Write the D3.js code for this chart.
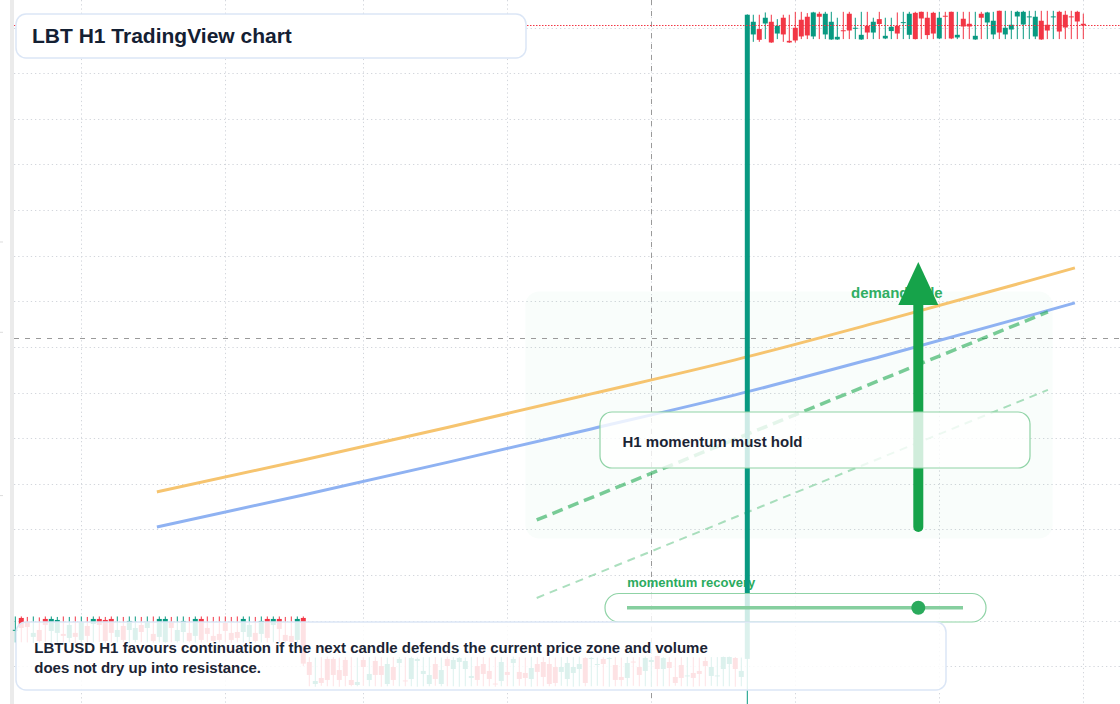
<!DOCTYPE html>
<html><head><meta charset="utf-8">
<script src="https://cdn.jsdelivr.net/npm/d3@7"></script>
<style>html,body{margin:0;padding:0;background:#fff;} svg{display:block;font-family:"Liberation Sans",Arial,sans-serif;}</style>
</head><body><svg id="c" width="1120" height="704"></svg>
<script>
// ---------------- DATA ----------------
// candle opens: 49 early candles, 73 after the drop, 57 after the jump
const openPrices = [
 103.97,105.29,104.85,103.21,103.97,105.18,103.86,103.65,103.54,103.10,
 103.65,102.88,104.41,104.63,105.18,105.07,105.18,103.21,104.41,103.97,
 102.88,104.52,104.19,103.54,103.21,102.66,104.85,102.77,103.75,103.65,
 103.32,105.18,104.19,103.32,103.54,104.74,103.65,103.75,103.75,103.21,
 103.65,103.54,105.18,104.52,105.18,103.43,103.32,102.88,105.29,
 100.46,98.05,98.71,100.79,100.79,99.58,100.68,98.49,97.94,100.68,
 98.49,100.57,100.02,98.05,99.91,100.35,98.44,98.60,100.57,99.15,
 98.05,100.24,98.05,100.79,99.69,100.46,99.69,98.71,100.02,100.24,
 99.48,98.10,98.38,99.37,100.35,99.37,99.26,98.60,100.24,100.46,
 100.24,99.91,99.37,98.60,99.26,99.69,100.90,100.79,100.13,100.79,
 100.79,100.13,98.82,98.71,100.51,99.91,99.48,100.46,101.12,99.69,
 100.46,98.82,100.13,98.88,99.26,99.48,100.57,98.93,98.88,99.69,
 100.24,100.90,98.82,
 100.80,169.25,169.84,170.45,170.64,169.35,171.08,168.55,169.98,170.86,
 171.19,169.03,171.52,169.25,168.70,168.70,169.71,171.52,169.87,168.70,
 170.20,169.46,170.93,168.81,169.62,170.20,170.53,169.21,171.62,171.73,
 171.08,171.62,168.81,171.30,171.73,168.92,170.97,170.42,168.70,171.52,
 170.56,169.25,171.84,169.25,169.79,171.22,170.34,171.14,169.03,170.75,
 170.31,171.14,171.73,171.41,171.23,171.73,170.42
];
const highPrices = [
 105.45,105.45,105.40,105.45,105.35,105.45,105.45,105.40,105.45,105.40,
 105.45,105.45,105.40,105.45,105.45,105.40,105.45,105.45,105.40,105.45,
 105.45,105.40,105.45,105.45,105.45,105.45,105.40,105.45,105.45,105.40,
 105.45,105.45,105.45,105.40,105.45,105.45,105.40,105.45,105.45,105.45,
 105.40,105.45,105.45,105.45,105.45,105.40,105.45,105.45,105.45,
 101.00,100.95,101.00,101.05,101.00,100.95,101.00,101.00,100.95,101.00,
 101.00,101.05,101.00,100.95,101.00,101.00,101.00,101.05,100.95,101.00,
 101.00,101.00,100.95,101.05,101.00,101.00,100.95,101.00,101.00,101.00,
 100.95,101.00,101.00,101.00,101.05,101.00,100.95,101.00,101.00,101.00,
 101.00,100.95,101.00,101.00,101.00,101.05,101.00,101.00,100.95,101.00,
 101.00,101.00,100.95,101.00,101.00,101.00,101.05,101.00,101.15,101.00,
 101.00,100.95,101.00,101.00,101.00,100.95,101.00,101.00,101.00,101.05,
 101.05,101.00,100.95,
 171.45,171.41,171.41,171.66,171.41,170.93,171.41,171.41,171.73,171.73,
 171.59,171.73,171.73,171.73,171.73,171.08,171.73,171.73,171.08,171.73,
 171.73,171.08,171.73,171.08,171.08,171.66,171.73,171.73,171.73,171.75,
 171.73,171.73,171.73,171.73,171.75,171.73,171.73,171.73,171.73,171.73,
 171.73,171.73,171.86,171.84,171.84,171.84,171.84,171.84,171.84,171.84,
 171.84,171.84,171.84,171.84,171.84,171.84,171.52
];
const lowPrices = [
 102.60,102.62,102.60,102.55,102.60,102.66,102.60,102.58,102.62,102.60,
 102.55,102.60,102.62,102.60,102.66,102.58,102.60,102.60,102.62,102.55,
 102.60,102.62,102.60,102.58,102.60,102.55,102.62,102.60,102.60,102.62,
 102.60,102.58,102.62,102.60,102.60,102.62,102.55,102.60,102.60,102.62,
 102.58,102.60,102.60,102.62,102.60,102.58,102.55,102.60,100.00,
 97.80,97.75,97.85,97.80,97.80,97.75,97.80,97.80,97.80,97.85,
 97.80,97.80,97.75,97.80,97.85,97.80,97.80,97.80,97.75,97.80,
 97.80,97.85,97.80,97.80,97.80,97.75,97.80,97.80,97.85,97.80,
 97.80,97.75,97.80,97.80,97.80,97.85,97.80,97.75,97.80,97.80,
 97.80,97.80,97.85,97.80,97.75,97.80,97.80,97.80,97.85,97.80,
 97.75,97.80,97.80,97.80,97.85,97.80,97.80,97.75,97.80,97.80,
 97.80,97.85,97.80,97.80,97.75,97.80,97.80,97.85,97.80,97.80,
 97.80,97.75,97.80,
 95.00,168.44,168.44,168.74,168.33,168.74,168.44,168.33,168.37,168.74,
 168.74,168.74,168.74,168.74,168.66,168.66,168.74,168.74,168.74,168.66,
 168.74,168.74,168.74,168.74,168.74,168.74,168.74,168.74,168.70,168.74,
 168.74,168.74,168.74,168.74,168.74,168.74,168.74,168.74,168.66,168.74,
 168.74,168.74,168.74,168.74,168.74,168.74,168.74,168.74,168.74,168.66,
 168.74,168.74,168.74,168.74,168.74,168.74,168.74
];
const closePrices = [
 103.99,104.19,104.30,103.65,102.77,104.52,105.18,105.07,103.32,104.52,
 103.21,104.85,103.32,105.18,104.52,102.77,103.65,103.97,102.88,104.96,
 104.19,103.75,104.85,102.77,105.18,105.18,104.19,103.97,104.96,102.77,
 105.18,102.88,103.54,102.77,102.88,103.86,102.88,103.10,105.18,104.52,
 102.77,104.96,103.10,105.18,104.08,102.77,102.66,105.18,100.28,
 99.04,98.38,98.16,98.49,99.04,98.49,98.93,97.94,98.27,99.91,
 99.15,99.04,99.04,100.24,98.49,100.79,98.33,100.90,100.79,99.48,
 99.04,98.60,99.58,100.02,100.68,100.90,100.57,98.93,98.49,99.15,
 98.60,98.00,100.46,99.04,100.79,98.60,98.71,99.80,99.37,98.82,
 98.05,98.16,99.91,100.35,99.91,100.24,98.16,100.90,100.24,100.24,
 100.90,98.49,98.49,100.35,100.40,99.04,100.90,100.68,99.69,100.90,
 99.80,98.16,98.71,98.99,98.71,99.15,100.02,99.91,98.99,101.01,
 101.01,99.69,99.48,
 171.41,170.64,168.66,171.08,168.37,170.20,169.25,168.37,168.59,169.03,
 169.14,171.66,171.19,171.52,170.64,168.99,169.60,169.68,169.98,169.21,
 169.46,170.64,170.39,169.10,170.09,169.35,170.60,171.52,168.74,171.00,
 169.18,169.35,171.08,171.22,168.81,169.21,170.12,170.12,169.10,171.08,
 171.66,170.75,169.46,169.98,170.31,171.73,171.73,171.23,171.19,168.70,
 169.68,171.23,169.57,170.01,171.14,170.67,170.23
];
// daily separators (candle index) and price grid
const dayTicks = [11, 35, 58, 82, 106, 130, 154, 178];
const priceGrid = [100,105,110,115,120,125,130,135,140,145,150,155,160,165,170];
const edgeTicks = [146.5, 136.6, 118.7];
// moving averages
const maIndex = [23.6, 48, 72, 96, 120, 144, 168, 176.6];
const emaFast = [119.10, 122.61, 126.17, 129.85, 133.58, 137.74, 142.07, 143.66];
const emaSlow = [115.26, 118.77, 122.34, 126.01, 129.74, 133.90, 138.24, 139.83];
// trend channel
const channelIndex = [86.9, 172.1];
const channelUpper = [116.03, 138.84];
const channelLower = [107.48, 130.29];
// demand zone
const zoneIndex = [85.0, 172.9];
const zonePrice = [114.0, 141.07];
// crosshair
const crossIndex = 106, crossPrice = 136.0;
// arrow
const arrowIndex = 150.5, arrowFrom = 115.25, arrowTo = 144.3;
// texts
const titleText = "LBT H1 TradingView chart";
const noteLines = ["LBTUSD H1 favours continuation if the next candle defends the current price zone and volume",
                   "does not dry up into resistance."];
const boxText = "H1 momentum must hold";
const zoneLabel = "demand side";
const meterLabel = "momentum recovery";

// ---------------- DRAW ----------------
const W = 1120, H = 704;
const svg = d3.select('#c');
const x = d3.scaleLinear().domain([0, 178]).range([15.3, 1083.3]);
const y = d3.scaleLinear().domain([100, 170]).range([666.2, 27.6]);
const UP = '#089981', DOWN = '#f23645';

svg.append('rect').attr('x',10).attr('y',0).attr('width',4).attr('height',H).attr('fill','#ebebeb');
svg.append('g').selectAll('line').data(edgeTicks).join('line')
  .attr('x1',0).attr('x2',3).attr('y1',d=>y(d)).attr('y2',d=>y(d)).attr('stroke','#dcdcdc');

const grid = svg.append('g').attr('stroke','#d3d6dc').attr('stroke-width',1).attr('stroke-dasharray','1.3,2.9');
grid.selectAll('.h').data(priceGrid).join('line').attr('class','h')
  .attr('x1',14).attr('x2',W).attr('y1',d=>Math.round(y(d))+0.5).attr('y2',d=>Math.round(y(d))+0.5);
grid.selectAll('.v').data(dayTicks).join('line').attr('class','v')
  .attr('y1',0).attr('y2',H).attr('x1',d=>Math.round(x(d))+0.5).attr('x2',d=>Math.round(x(d))+0.5);

// zone
svg.append('rect').attr('x',x(zoneIndex[0])).attr('y',y(zonePrice[1]))
  .attr('width',x(zoneIndex[1])-x(zoneIndex[0])).attr('height',y(zonePrice[0])-y(zonePrice[1]))
  .attr('rx',14).attr('fill','rgba(34,197,94,0.028)');

// crosshair
svg.append('line').attr('x1',14).attr('x2',W).attr('y1',Math.round(y(crossPrice))+0.5).attr('y2',Math.round(y(crossPrice))+0.5)
  .attr('stroke','#9a9a9a').attr('stroke-dasharray','5,6');
svg.append('line').attr('y1',0).attr('y2',H).attr('x1',Math.round(x(crossIndex))+0.5).attr('x2',Math.round(x(crossIndex))+0.5)
  .attr('stroke','#9a9a9a').attr('stroke-dasharray','5,6');

// moving averages
const maLine = d3.line().x((d,i)=>x(maIndex[i])).y(d=>y(d)).curve(d3.curveMonotoneX);
svg.append('path').attr('d',maLine(emaFast)).attr('fill','none').attr('stroke','#f6c46f').attr('stroke-width',3);
svg.append('path').attr('d',maLine(emaSlow)).attr('fill','none').attr('stroke','#8fb2f2').attr('stroke-width',3);

// channel
const chLine = d3.line().x((d,i)=>x(channelIndex[i])).y(d=>y(d));
svg.append('path').attr('d',chLine(channelUpper)).attr('fill','none').attr('stroke','rgba(34,170,84,0.6)')
  .attr('stroke-width',3.5).attr('stroke-dasharray','11,6');
svg.append('path').attr('d',chLine(channelLower)).attr('fill','none').attr('stroke','rgba(34,170,84,0.38)')
  .attr('stroke-width',2).attr('stroke-dasharray','8,6');

// labels under arrow / candles
svg.append('text').attr('x',851).attr('y',298).attr('font-size',15).attr('font-weight','bold')
  .attr('fill','#2fae62').text(zoneLabel);
svg.append('text').attr('x',627.3).attr('y',587.3).attr('font-size',13).attr('font-weight','bold')
  .attr('fill','#2bab5e').text(meterLabel);

// arrow
const ax = x(arrowIndex), ayTop = y(arrowTo), ayBot = y(arrowFrom);
svg.append('line').attr('x1',ax).attr('x2',ax).attr('y1',ayBot).attr('y2',ayTop+40)
  .attr('stroke','#16a34a').attr('stroke-width',10).attr('stroke-linecap','round');
svg.append('path').attr('d',`M${ax},${ayTop} L${ax-20},${ayTop+43} L${ax+20},${ayTop+43} Z`).attr('fill','#16a34a');

// candles
const candles = openPrices.map((o,i)=>({i, o, h:highPrices[i], l:lowPrices[i], c:closePrices[i]}));
const cg = svg.append('g');
cg.selectAll('.w').data(candles).join('line').attr('class','w')
  .attr('x1',d=>x(d.i)).attr('x2',d=>x(d.i)).attr('y1',d=>y(d.h)).attr('y2',d=>y(d.l))
  .attr('stroke',d=>d.c>=d.o?UP:DOWN).attr('stroke-width',1);
cg.selectAll('.b').data(candles).join('rect').attr('class','b')
  .attr('x',d=>x(d.i)-2.5).attr('width',5)
  .attr('y',d=>Math.min(y(d.o),y(d.c)))
  .attr('height',d=>Math.max(1,Math.abs(y(d.o)-y(d.c))))
  .attr('fill',d=>d.c>=d.o?UP:DOWN);

// last price line
const lastClose = closePrices[closePrices.length-1];
svg.append('line').attr('x1',14).attr('x2',W).attr('y1',y(lastClose)).attr('y2',y(lastClose))
  .attr('stroke',DOWN).attr('stroke-width',1).attr('stroke-dasharray','1.5,1.5');

// boxes
svg.append('rect').attr('x',600).attr('y',412).attr('width',430).attr('height',56).attr('rx',12)
  .attr('fill','rgba(255,255,255,0.8)').attr('stroke','#8fd3a6').attr('stroke-width',1.2);
svg.append('text').attr('x',622.5).attr('y',447.3).attr('font-size',15).attr('font-weight','bold')
  .attr('fill','#1b2434').text(boxText);

svg.append('rect').attr('x',605).attr('y',593.5).attr('width',381).attr('height',28.5).attr('rx',14)
  .attr('fill','rgba(255,255,255,0.8)').attr('stroke','#8fd3a6').attr('stroke-width',1.2);
svg.append('line').attr('x1',627).attr('x2',963).attr('y1',607.7).attr('y2',607.7)
  .attr('stroke','#86cf9f').attr('stroke-width',3.5);
svg.append('circle').attr('cx',ax).attr('cy',607.7).attr('r',7).attr('fill','#2aaa5c');

svg.append('rect').attr('x',16).attr('y',622).attr('width',930).attr('height',68).attr('rx',10)
  .attr('fill','rgba(255,255,255,0.86)').attr('stroke','#dbe6f6').attr('stroke-width',1.5);
svg.append('g').selectAll('text').data(noteLines).join('text')
  .attr('x',34.3).attr('y',(d,i)=>653.3+i*20).attr('font-size',15).attr('font-weight','bold')
  .attr('fill','#1b2434').text(d=>d);

svg.append('rect').attr('x',16).attr('y',14).attr('width',510).attr('height',44).attr('rx',10)
  .attr('fill','#fff').attr('stroke','#dbe6f6').attr('stroke-width',1.5);
svg.append('text').attr('x',32).attr('y',43).attr('font-size',21).attr('font-weight','bold')
  .attr('fill','#142033').text(titleText);
</script></body></html>
